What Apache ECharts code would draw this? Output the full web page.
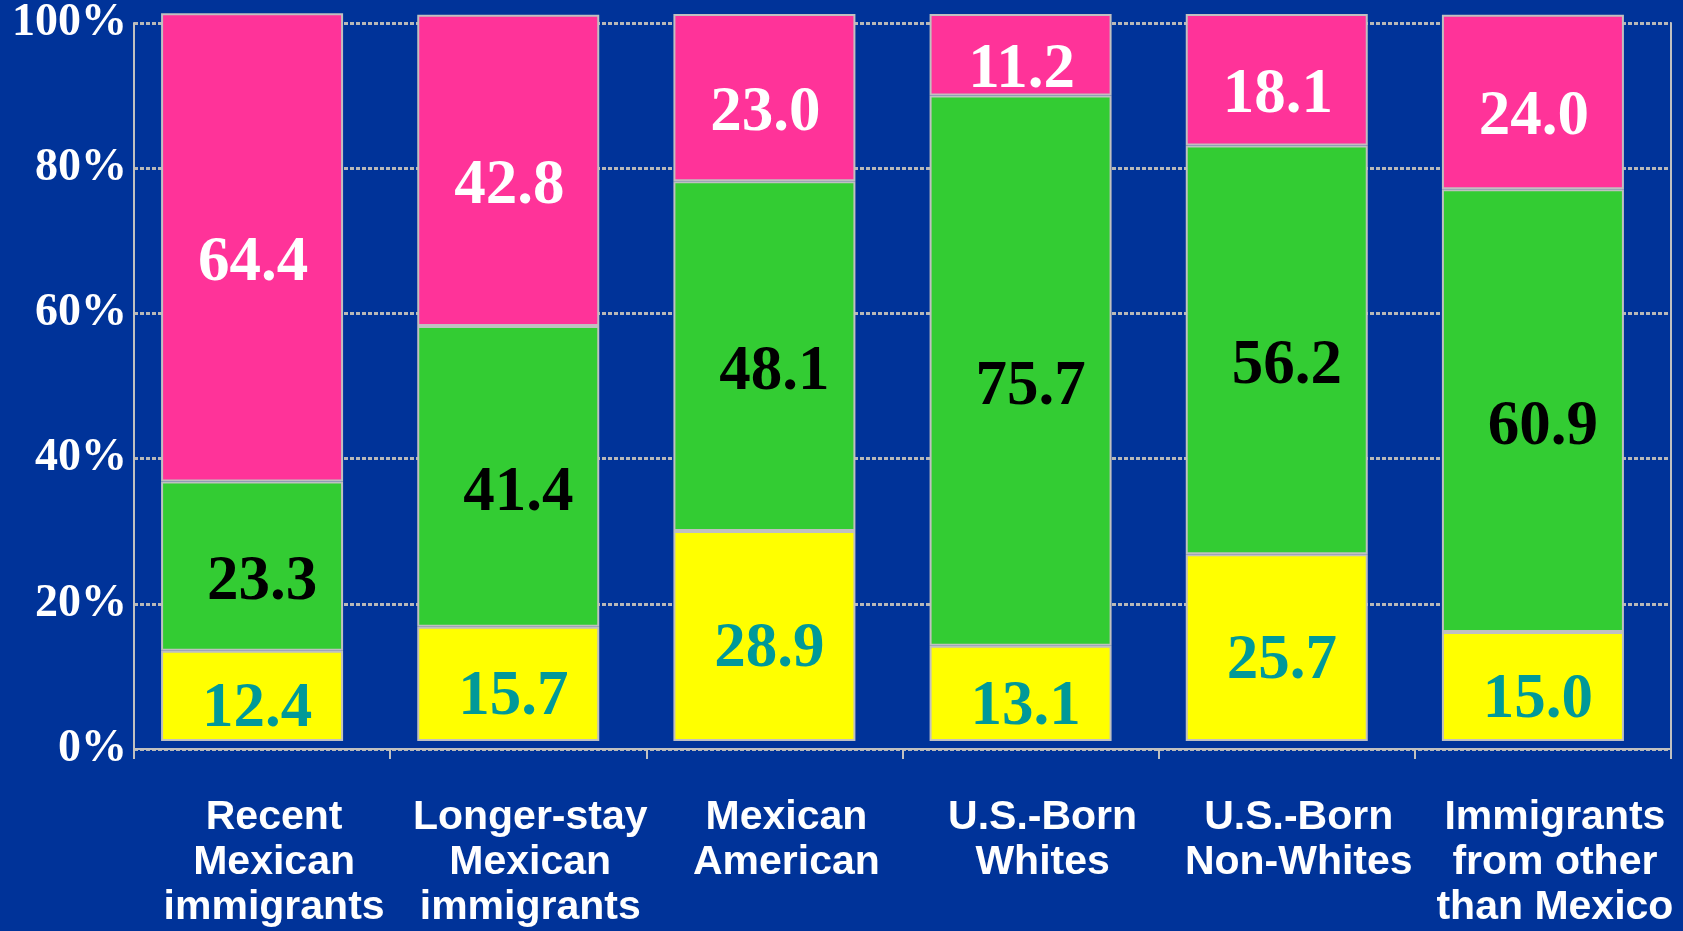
<!DOCTYPE html>
<html>
<head>
<meta charset="utf-8">
<title>chart</title>
<script src="https://cdn.jsdelivr.net/npm/echarts@6/dist/echarts.min.js"></script>
<style>
    html, body { margin: 0; padding: 0; background: #003399; }
    #main { width: 1683px; height: 931px; }
</style>
</head>
<body>
<div id="main"></div>
<script>
// data
var categories = ['Recent\nMexican\nimmigrants', 'Longer-stay\nMexican\nimmigrants', 'Mexican\nAmerican',
    'U.S.-Born\nWhites', 'U.S.-Born\nNon-Whites', 'Immigrants\nfrom other\nthan Mexico'];
var yellowVals = [12.4, 15.7, 28.9, 13.1, 25.7, 15.0];
var greenVals = [23.3, 41.4, 48.1, 75.7, 56.2, 60.9];
var pinkVals = [64.4, 42.8, 23.0, 11.2, 18.1, 24.0];
var yTicks = [0, 20, 40, 60, 80, 100];

var serifFont = "'Liberation Serif', 'Times New Roman', serif";
var sansFont = "'Liberation Sans', Arial, sans-serif";

var myChart = echarts.init(document.getElementById('main'));

var fmt = function (p) {
    return p.value.toFixed(1);
};

var makeSeries = function (name, vals, color, labelColor, offset) {
    return {
        name: name,
        type: 'bar',
        stack: 'total',
        xAxisIndex: 1,
        yAxisIndex: 2,
        barWidth: 182,
        data: vals,
        itemStyle: {
            color: color,
            borderColor: '#c0c0c0',
            borderWidth: 2
        },
        label: {
            show: true,
            position: 'inside',
            formatter: fmt,
            color: labelColor,
            fontFamily: serifFont,
            fontWeight: 'bold',
            fontSize: 63,
            offset: offset
        }
    };
};

var option = {
    backgroundColor: '#003399',
    animation: false,
    grid: [
        // axes, gridlines, tick labels
        { left: 134, right: 12, top: 14, bottom: 182 },
        // bars sit a little higher and to the left, as on the slide
        { left: 124, right: 22, top: 14, bottom: 190 }
    ],
    xAxis: [
        {
            type: 'category',
            gridIndex: 0,
            data: categories,
            axisLine: { lineStyle: { color: '#c0c0c0', width: 2 } },
            axisTick: { show: true, length: 10, lineStyle: { color: '#c0c0c0', width: 2 } },
            axisLabel: {
                color: '#ffffff',
                fontFamily: sansFont,
                fontWeight: 'bold',
                fontSize: 41,
                lineHeight: 45,
                margin: 46,
                padding: [0, 0, 0, 24],
                interval: 0
            }
        },
        {
            type: 'category',
            gridIndex: 1,
            data: categories,
            show: false
        }
    ],
    yAxis: [
        {
            type: 'value',
            gridIndex: 0,
            min: yTicks[0],
            max: yTicks[yTicks.length - 1],
            interval: yTicks[1] - yTicks[0],
            axisLine: { show: true, lineStyle: { color: '#c0c0c0', width: 2 } },
            axisTick: { show: false },
            splitLine: { lineStyle: { color: '#b8b8b8', width: 3, type: [4, 2] } },
            axisLabel: {
                formatter: '{value}%',
                color: '#ffffff',
                fontFamily: serifFont,
                fontWeight: 'bold',
                fontSize: 46,
                margin: 7,
                padding: [24, 0, 0, 0]
            }
        },
        {
            // right border of the plot
            type: 'value',
            gridIndex: 0,
            position: 'right',
            min: 0,
            max: 100,
            axisLine: { show: true, lineStyle: { color: '#c0c0c0', width: 2 } },
            axisTick: { show: false },
            axisLabel: { show: false },
            splitLine: { show: false }
        },
        {
            type: 'value',
            gridIndex: 1,
            min: 0,
            max: 100,
            show: false,
            splitLine: { show: false }
        }
    ],
    series: [
        makeSeries('Yellow', yellowVals, '#ffff00', '#009999', [5, 14]),
        makeSeries('Green', greenVals, '#33cc33', '#000000', [10, 17]),
        makeSeries('Pink', pinkVals, '#ff3399', '#ffffff', [1, 16])
    ]
};

myChart.setOption(option);
</script>
</body>
</html>
